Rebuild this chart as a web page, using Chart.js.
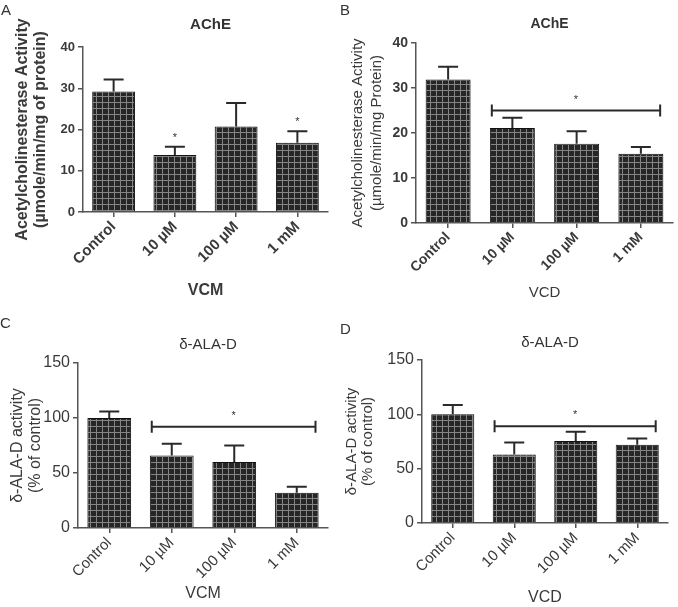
<!DOCTYPE html>
<html>
<head>
<meta charset="utf-8">
<script src="https://cdn.jsdelivr.net/npm/chart.js@4.4.0/dist/chart.umd.min.js"></script>
<style>
  body { margin: 0; background: #fff; width: 678px; height: 607px; position: relative; overflow: hidden;
         font-family: "Liberation Sans", Arial, sans-serif; }
  .panel { position: absolute; }
  .lbl { position: absolute; font-size: 15px; color: #333; line-height: 1; }
</style>
</head>
<body>
<div class="panel" style="left:0;top:0;width:340px;height:300px"><canvas id="cA"></canvas></div>
<div class="panel" style="left:340px;top:0;width:338px;height:300px"><canvas id="cB"></canvas></div>
<div class="panel" style="left:0;top:300px;width:340px;height:307px"><canvas id="cC"></canvas></div>
<div class="panel" style="left:340px;top:300px;width:338px;height:307px"><canvas id="cD"></canvas></div>
<div class="lbl" style="left:1px;top:2px">A</div>
<div class="lbl" style="left:340px;top:2px">B</div>
<div class="lbl" style="left:0px;top:315px">C</div>
<div class="lbl" style="left:340px;top:321px">D</div>
<script>
// data
const doses = ['Control', '10 µM', '100 µM', '1 mM'];

const acheVCM = [29.2, 13.8, 20.7, 16.8];
const acheVCMsem = [2.9, 2.0, 5.7, 2.8];
const acheVCD = [31.9, 21.1, 17.6, 15.4];
const acheVCDsem = [2.8, 2.3, 2.8, 1.5];

const alaVCM = [100, 66, 60, 32];
const alaVCMsem = [6, 10.5, 15, 5.5];
const alaVCD = [100, 63, 75.5, 72];
const alaVCDsem = [8.5, 11, 8.5, 5.8];

const acheMax = 40, acheStep = 10;
const alaMax = 150, alaStep = 50;

// significance brackets (value on y axis), stars over single bars
const acheVCDbracket = 25;
const alaVCMbracket = 92;
const alaVCDbracket = 89;
const acheVCMstars = [1, 3];

Chart.defaults.font.family = '"Liberation Sans", Arial, sans-serif';
Chart.defaults.color = '#3a3a3a';

// dark cross-hatched fill
const pc = document.createElement('canvas');
pc.width = 6; pc.height = 6;
const pctx = pc.getContext('2d');
pctx.fillStyle = '#262626';
pctx.fillRect(0, 0, 6, 6);
pctx.fillStyle = '#858585';
pctx.fillRect(0, 0, 6, 1);
pctx.fillRect(0, 0, 1, 6);
const hatch = pctx.createPattern(pc, 'repeat');

const extras = {
  id: 'extras',
  afterDatasetsDraw(chart, args, o) {
    const { ctx, chartArea } = chart;
    const x = chart.scales.x, y = chart.scales.y;
    const vals = chart.data.datasets[0].data;
    const slot = x.width / chart.data.labels.length;
    ctx.save();
    ctx.strokeStyle = '#2a2a2a';
    ctx.lineWidth = 2;
    o.sem.forEach((s, i) => {
      const cx = x.getPixelForValue(i);
      const y0 = y.getPixelForValue(vals[i]);
      const y1 = y.getPixelForValue(vals[i] + s);
      ctx.beginPath();
      ctx.moveTo(cx, y0); ctx.lineTo(cx, y1);
      ctx.moveTo(cx - 10, y1); ctx.lineTo(cx + 10, y1);
      ctx.stroke();
    });
    ctx.fillStyle = '#333';
    ctx.textAlign = 'center';
    ctx.textBaseline = 'middle';
    ctx.font = '11px "Liberation Sans", Arial';
    if (o.bracket != null) {
      const x1 = x.getPixelForValue(1) - 0.32 * slot;
      const x2 = x.getPixelForValue(3) + 0.3 * slot;
      const by = y.getPixelForValue(o.bracket);
      ctx.beginPath();
      ctx.moveTo(x1, by); ctx.lineTo(x2, by);
      ctx.moveTo(x1, by - 6); ctx.lineTo(x1, by + 6);
      ctx.moveTo(x2, by - 6); ctx.lineTo(x2, by + 6);
      ctx.stroke();
      ctx.fillText('*', (x1 + x2) / 2, by - 11);
    }
    (o.stars || []).forEach(i => {
      ctx.fillText('*', x.getPixelForValue(i), y.getPixelForValue(vals[i] + o.sem[i]) - 9);
    });
    ctx.font = o.titleFont;
    ctx.fillText(o.title, (chartArea.left + chartArea.right) / 2 + 5, o.titleY);
    ctx.restore();
  }
};

function panel(id, p) {
  return new Chart(document.getElementById(id), {
    type: 'bar',
    data: {
      labels: doses,
      datasets: [{
        data: p.values,
        backgroundColor: hatch,
        borderColor: '#111',
        borderWidth: 1,
        categoryPercentage: 1,
        barPercentage: 0.7
      }]
    },
    options: {
      responsive: true,
      maintainAspectRatio: false,
      animation: false,
      devicePixelRatio: 1,
      layout: { padding: { top: p.top, right: p.right, bottom: 0, left: 0 } },
      plugins: {
        legend: { display: false },
        tooltip: { enabled: false },
        extras: { sem: p.sem, bracket: p.bracket, stars: p.stars, title: p.title, titleY: p.titleY, titleFont: p.titleFont }
      },
      scales: {
        x: {
          afterFit: s => { s.height = p.xH; },
          grid: { display: true, drawOnChartArea: false, offset: false, tickLength: 5, color: '#555', lineWidth: 1.5 },
          border: { color: '#555', width: 1.5 },
          ticks: { minRotation: 45, maxRotation: 45, autoSkip: false, padding: 1, font: p.xTickFont, color: '#3a3a3a' },
          title: { display: true, text: p.xTitle, font: p.xTitleFont, padding: { top: 0, bottom: p.xTitlePad }, color: '#3a3a3a' }
        },
        y: {
          min: 0, max: p.max,
          afterFit: s => { s.width = p.yW; },
          grid: { display: true, drawOnChartArea: false, tickLength: 5, color: '#555', lineWidth: 1.5 },
          border: { color: '#555', width: 1.5 },
          ticks: { stepSize: p.step, padding: 3, font: p.yTickFont, color: '#3a3a3a' },
          title: { display: true, text: p.yTitle, font: p.yTitleFont, padding: { top: p.yTitlePad, bottom: 0 }, color: '#3a3a3a' }
        }
      }
    },
    plugins: [extras]
  });
}

panel('cA', {
  values: acheVCM, sem: acheVCMsem, stars: acheVCMstars, bracket: null,
  max: acheMax, step: acheStep, top: 47, right: 12, yW: 83, xH: 88,
  title: 'AChE', titleY: 25, titleFont: 'bold 15px "Liberation Sans", Arial',
  xTitle: 'VCM', xTitleFont: { size: 16, weight: 'bold', lineHeight: 1.2 }, xTitlePad: 0,
  xTickFont: { size: 15, weight: 'bold' }, yTickFont: { size: 13, weight: 'bold' },
  yTitle: ['Acetylcholinesterase Activity', '(µmole/min/mg of protein)'],
  yTitleFont: { size: 16, weight: 'bold', lineHeight: 1.15 }, yTitlePad: 13
});

panel('cB', {
  values: acheVCD, sem: acheVCDsem, stars: [], bracket: acheVCDbracket,
  max: acheMax, step: acheStep, top: 43, right: 5, yW: 76, xH: 77,
  title: 'AChE', titleY: 24, titleFont: 'bold 14px "Liberation Sans", Arial',
  xTitle: 'VCD', xTitleFont: { size: 15, weight: 'normal', lineHeight: 1.0 }, xTitlePad: 0,
  xTickFont: { size: 14, weight: 'bold' }, yTickFont: { size: 14, weight: 'bold' },
  yTitle: ['Acetylcholinesterase Activity', '(µmole/min/mg Protein)'],
  yTitleFont: { size: 15, weight: 'normal', lineHeight: 1.3 }, yTitlePad: 8
});

panel('cC', {
  values: alaVCM, sem: alaVCMsem, stars: [], bracket: alaVCMbracket,
  max: alaMax, step: alaStep, top: 63, right: 12, yW: 78, xH: 79,
  title: 'δ-ALA-D', titleY: 45, titleFont: '15px "Liberation Sans", Arial',
  xTitle: 'VCM', xTitleFont: { size: 16, weight: 'normal', lineHeight: 1.2 }, xTitlePad: 4,
  xTickFont: { size: 15, weight: 'normal' }, yTickFont: { size: 16, weight: 'normal' },
  yTitle: ['δ-ALA-D activity', '(% of control)'],
  yTitleFont: { size: 16, weight: 'normal', lineHeight: 1.15 }, yTitlePad: 8
});

panel('cD', {
  values: alaVCD, sem: alaVCDsem, stars: [], bracket: alaVCDbracket,
  max: alaMax, step: alaStep, top: 60, right: 10, yW: 82, xH: 84,
  title: 'δ-ALA-D', titleY: 43, titleFont: '15px "Liberation Sans", Arial',
  xTitle: 'VCD', xTitleFont: { size: 16, weight: 'normal', lineHeight: 1.2 }, xTitlePad: 0,
  xTickFont: { size: 15, weight: 'normal' }, yTickFont: { size: 16, weight: 'normal' },
  yTitle: ['δ-ALA-D activity', '(% of control)'],
  yTitleFont: { size: 15, weight: 'normal', lineHeight: 1.05 }, yTitlePad: 4
});
</script>
</body>
</html>
